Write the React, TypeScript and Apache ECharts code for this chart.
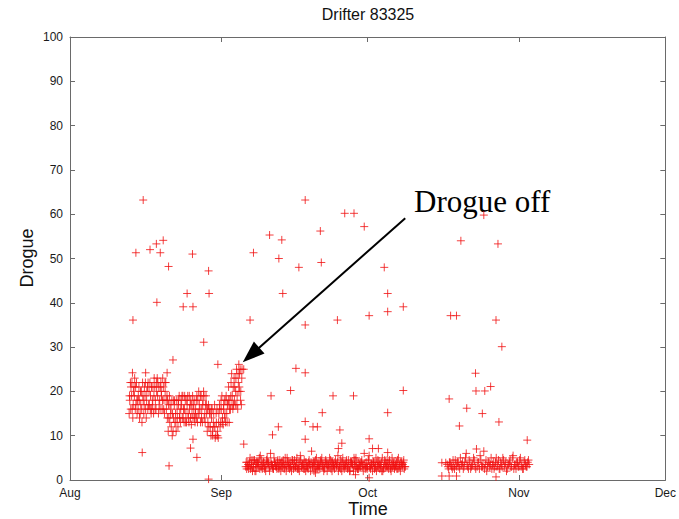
import React, { useEffect, useRef } from 'react';
import * as echarts from 'echarts';

// Days since 1 Aug (00:00); month boundaries on the time axis
const monthTicks = [0, 31, 61, 92, 122];
const monthLabels = ['Aug', 'Sep', 'Oct', 'Nov', 'Dec'];

// Drogue band before loss (Aug 13 - Sep 4)
const augBand: [number, number][] = [
  [12.25, 18], [12.5, 21], [12.75, 16], [13.0, 20], [13.25, 23], [13.5, 17], [13.75, 15], [14.0, 19],
  [14.25, 14], [14.5, 17], [14.75, 13], [15.0, 18], [15.25, 21], [15.5, 16], [15.75, 20], [16.0, 22],
  [16.25, 17], [16.5, 19], [16.75, 16], [17.0, 21], [17.25, 23], [17.5, 18], [17.75, 20], [18.0, 22],
  [18.25, 17], [18.5, 21], [18.75, 19], [19.0, 23], [19.25, 18], [19.5, 20], [19.75, 16], [20.0, 18],
  [20.25, 14], [20.5, 17], [20.75, 12], [21.0, 15], [21.25, 18], [21.5, 13], [21.75, 11], [22.0, 14],
  [22.25, 17], [22.5, 15], [22.75, 18], [23.0, 14], [23.25, 16], [23.5, 19], [23.75, 15], [24.0, 17],
  [24.25, 14], [24.5, 16], [24.75, 18], [25.0, 15], [25.25, 17], [25.5, 14], [25.75, 16], [26.0, 19],
  [26.25, 15], [26.5, 17], [26.75, 13], [27.0, 16], [27.25, 18], [27.5, 14], [27.75, 17], [28.0, 15],
  [28.25, 13], [28.5, 16], [28.75, 12], [29.0, 14], [29.25, 10], [29.5, 12], [29.75, 9.5], [30.0, 13],
  [30.25, 11], [30.5, 15], [30.75, 12], [31.0, 16], [31.25, 14], [31.5, 17], [31.75, 15], [32.0, 19],
  [32.25, 17], [32.5, 21], [32.75, 18], [33.0, 22], [33.25, 19], [33.5, 17], [33.75, 21], [34.0, 23],
  [34.25, 19], [34.5, 22], [34.75, 24], [35.0, 20], [35.25, 25],
];
const augBandB: [number, number][] = [
  [12.125, 15], [12.375, 22], [12.625, 19], [12.875, 14], [13.125, 21], [13.375, 16], [13.625, 22], [13.875, 18],
  [14.125, 21], [14.375, 15], [14.625, 20], [14.875, 22], [15.125, 15], [15.375, 19], [15.625, 14], [15.875, 21],
  [16.125, 17], [16.375, 22], [16.625, 15], [16.875, 18], [17.125, 15], [17.375, 21], [17.625, 16], [17.875, 23],
  [18.125, 15], [18.375, 18], [18.625, 22], [18.875, 16], [19.125, 21], [19.375, 15], [19.625, 22], [19.875, 19],
  [20.125, 11], [20.375, 19], [20.625, 15], [20.875, 18], [21.125, 11], [21.375, 17], [21.625, 15], [21.875, 18],
  [22.125, 12], [22.375, 19], [22.625, 13], [22.875, 17], [23.125, 19], [23.375, 13], [23.625, 18], [23.875, 13],
  [24.125, 19], [24.375, 13], [24.625, 17], [24.875, 12.5], [25.125, 19], [25.375, 16], [25.625, 13], [25.875, 18],
  [26.125, 13], [26.375, 20], [26.625, 16], [26.875, 19], [27.125, 13], [27.375, 20], [27.625, 15], [27.875, 19],
  [28.125, 11], [28.375, 17], [28.625, 15], [28.875, 10], [29.125, 16], [29.375, 13], [29.625, 17], [29.875, 10],
  [30.125, 16], [30.375, 9.5], [30.625, 17], [30.875, 13], [31.125, 19], [31.375, 12.5], [31.625, 18], [31.875, 13],
  [32.125, 15], [32.375, 17], [32.625, 13], [32.875, 16], [33.125, 24], [33.375, 16], [33.625, 23], [33.875, 17],
  [34.125, 25], [34.375, 16], [34.625, 20], [34.875, 25], [35.125, 17],
];
const augBandC: [number, number][] = [
  [12.2, 19], [12.45, 16], [12.7, 22], [12.95, 17], [13.2, 19], [13.45, 21], [13.7, 18], [13.95, 16],
  [14.2, 18], [14.45, 20], [14.7, 16], [14.95, 19], [15.2, 17], [15.45, 22], [15.7, 18], [15.95, 16],
  [16.2, 20], [16.45, 16], [16.7, 21], [16.95, 17], [17.2, 19], [17.45, 16], [17.7, 22], [17.95, 19],
  [18.2, 21], [18.45, 16], [18.7, 20], [18.95, 18], [19.2, 16], [19.45, 22], [19.7, 18], [19.95, 14],
  [20.2, 17], [20.45, 13], [20.7, 16], [20.95, 10], [21.2, 14], [21.45, 18], [21.7, 13], [21.95, 16],
  [22.2, 18], [22.45, 14], [22.7, 16], [22.95, 19], [23.2, 14], [23.45, 16], [23.7, 13], [23.95, 18],
  [24.2, 15], [24.45, 19], [24.7, 14], [24.95, 17], [25.2, 14], [25.45, 18], [25.7, 15], [25.95, 14],
  [26.2, 18], [26.45, 15], [26.7, 19], [26.95, 14], [27.2, 17], [27.45, 19], [27.7, 13], [27.95, 17],
  [28.2, 16], [28.45, 12], [28.7, 15], [28.95, 16], [29.2, 11], [29.45, 15], [29.7, 12], [29.95, 15],
  [30.2, 10], [30.45, 13], [30.7, 16], [30.95, 18], [31.2, 13], [31.45, 16], [31.7, 14], [31.95, 18],
  [32.2, 13], [32.45, 18], [32.7, 16], [32.95, 19], [33.2, 17], [33.45, 21], [33.7, 18], [33.95, 20],
  [34.2, 17], [34.45, 24], [34.7, 21], [34.95, 18], [35.2, 23],
];

// Band after the drogue came off (Sep 5 - Oct 9)
const sepBand: [number, number][] = [
  [36.0, 3], [36.3, 4], [36.6, 2.5], [36.9, 5], [37.2, 3.5], [37.5, 3], [37.8, 4.5], [38.1, 2],
  [38.4, 4], [38.7, 3], [39.0, 5.5], [39.3, 3], [39.6, 4], [39.9, 2.5], [40.2, 3.5], [40.5, 4],
  [40.8, 3], [41.1, 6], [41.4, 3.5], [41.7, 2.5], [42.0, 4], [42.3, 3], [42.6, 4.5], [42.9, 3],
  [43.2, 2], [43.5, 4], [43.8, 3.5], [44.1, 5], [44.4, 3], [44.7, 4], [45.0, 2.5], [45.3, 3],
  [45.6, 4.5], [45.9, 3.5], [46.2, 3], [46.5, 5], [46.8, 2.5], [47.1, 4], [47.4, 3], [47.7, 3.5],
  [48.0, 4.5], [48.3, 2], [48.6, 3], [48.9, 4], [49.2, 3.5], [49.5, 6.5], [49.8, 3], [50.1, 4],
  [50.4, 2.5], [50.7, 3.5], [51.0, 3], [51.3, 4], [51.6, 5], [51.9, 3], [52.2, 2.5], [52.5, 4],
  [52.8, 3.5], [53.1, 3], [53.4, 4.5], [53.7, 2], [54.0, 3.5], [54.3, 4], [54.6, 3], [54.9, 5.5],
  [55.2, 3], [55.5, 2.5], [55.8, 4], [56.1, 3.5], [56.4, 3], [56.7, 4.5], [57.0, 3], [57.3, 2],
  [57.6, 4], [57.9, 3.5], [58.2, 5], [58.5, 3], [58.8, 4], [59.1, 2.5], [59.4, 3], [59.7, 4],
  [60.0, 3.5], [60.3, 6], [60.6, 3], [60.9, 2.5], [61.2, 4.5], [61.5, 3], [61.8, 3.5], [62.1, 4],
  [62.4, 2.5], [62.7, 5], [63.0, 3], [63.3, 4], [63.6, 3.5], [63.9, 2], [64.2, 3], [64.5, 4.5],
  [64.8, 3.5], [65.1, 3], [65.4, 4], [65.7, 2.5], [66.0, 5], [66.3, 3.5], [66.6, 3], [66.9, 4],
  [67.2, 2.5], [67.5, 3.5], [67.8, 4], [68.1, 3], [68.4, 4.5], [68.7, 3],
];
const sepBandB: [number, number][] = [
  [36.1, 4], [36.4, 3], [36.7, 3.5], [37.0, 2.5], [37.3, 4.5], [37.6, 3], [37.9, 2], [38.2, 4], [38.5, 3.5], [38.8, 5],
  [39.1, 3], [39.4, 2.5], [39.7, 4], [40.0, 3], [40.3, 4.5], [40.6, 3.5], [40.9, 2], [41.2, 4], [41.5, 3], [41.8, 5],
  [42.1, 3.5], [42.4, 2.5], [42.7, 3], [43.0, 4.5], [43.3, 4], [43.6, 3], [43.9, 2.5], [44.2, 3.5], [44.5, 5], [44.8, 3],
  [45.1, 4], [45.4, 2], [45.7, 3.5], [46.0, 4.5], [46.3, 3], [46.6, 2.5], [46.9, 4], [47.2, 5.5], [47.5, 3], [47.8, 3.5],
  [48.1, 2.5], [48.4, 4], [48.7, 3], [49.0, 4.5], [49.3, 2], [49.6, 3.5], [49.9, 4], [50.2, 3], [50.5, 5], [50.8, 2.5],
  [51.1, 3.5], [51.4, 4.5], [51.7, 3], [52.0, 2], [52.3, 4], [52.6, 3.5], [52.9, 3], [53.2, 5], [53.5, 2.5], [53.8, 4],
  [54.1, 3], [54.4, 4.5], [54.7, 3.5], [55.0, 2], [55.3, 3], [55.6, 4], [55.9, 5], [56.2, 2.5], [56.5, 3.5], [56.8, 3],
  [57.1, 4.5], [57.4, 2], [57.7, 4], [58.0, 3], [58.3, 3.5], [58.6, 5], [58.9, 2.5], [59.2, 4], [59.5, 3], [59.8, 4.5],
  [60.1, 2], [60.4, 3.5], [60.7, 4], [61.0, 3], [61.3, 5.5], [61.6, 2.5], [61.9, 3.5], [62.2, 4], [62.5, 3], [62.8, 2],
  [63.1, 4.5], [63.4, 3.5], [63.7, 3], [64.0, 5], [64.3, 2.5], [64.6, 4], [64.9, 3], [65.2, 3.5], [65.5, 4.5], [65.8, 2],
  [66.1, 3], [66.4, 4], [66.7, 3.5], [67.0, 2.5], [67.3, 5], [67.6, 3], [67.9, 4], [68.2, 3.5], [68.5, 2.5],
];
const sepBandC: [number, number][] = [
  [36.2, 2.5], [36.5, 3.5], [36.8, 4], [37.1, 3], [37.4, 2], [37.7, 4.5], [38.0, 3.5], [38.3, 3], [38.6, 4], [38.9, 2.5],
  [39.2, 4.5], [39.5, 3.5], [39.8, 3], [40.1, 2], [40.4, 5], [40.7, 4], [41.0, 3], [41.3, 3.5], [41.6, 2.5], [41.9, 4],
  [42.2, 3], [42.5, 4], [42.8, 2.5], [43.1, 3.5], [43.4, 3], [43.7, 4.5], [44.0, 3], [44.3, 2], [44.6, 4], [44.9, 3.5],
  [45.2, 3], [45.5, 4.5], [45.8, 2.5], [46.1, 3], [46.4, 4], [46.7, 3], [47.0, 2], [47.3, 4.5], [47.6, 3.5], [47.9, 2.5],
  [48.2, 4], [48.5, 3], [48.8, 2.5], [49.1, 3.5], [49.4, 4], [49.7, 3], [50.0, 2], [50.3, 4.5], [50.6, 3], [50.9, 3.5],
  [51.2, 2.5], [51.5, 4], [51.8, 3.5], [52.1, 3], [52.4, 4.5], [52.7, 2], [53.0, 3.5], [53.3, 3], [53.6, 4], [53.9, 3],
  [54.2, 2.5], [54.5, 3.5], [54.8, 4], [55.1, 3], [55.4, 4.5], [55.7, 2], [56.0, 3], [56.3, 3.5], [56.6, 4], [56.9, 2.5],
  [57.2, 3], [57.5, 4], [57.8, 3.5], [58.1, 2], [58.4, 4.5], [58.7, 3], [59.0, 2.5], [59.3, 3.5], [59.6, 4], [59.9, 3],
  [60.2, 3.5], [60.5, 2.5], [60.8, 3], [61.1, 4.5], [61.4, 3], [61.7, 3.5], [62.0, 2], [62.3, 4], [62.6, 3], [62.9, 4],
  [63.2, 3], [63.5, 2.5], [63.8, 4], [64.1, 2], [64.4, 3.5], [64.7, 3], [65.0, 4.5], [65.3, 2.5], [65.6, 3], [65.9, 3.5],
  [66.2, 4], [66.5, 2.5], [66.8, 3], [67.1, 4.5], [67.4, 3], [67.7, 2], [68.0, 3.5], [68.3, 4], [68.6, 3],
];

// Band from mid October to early November
const novBand: [number, number][] = [
  [77.3, 3.5], [77.6, 2.5], [77.9, 4], [78.2, 3], [78.5, 4.5], [78.8, 2.5], [79.1, 3.5], [79.4, 4],
  [79.7, 3], [80.0, 5], [80.3, 3.5], [80.6, 2.5], [80.9, 4], [81.2, 6], [81.5, 3], [81.8, 4.5],
  [82.1, 2.5], [82.4, 3.5], [82.7, 5], [83.0, 3], [83.3, 7], [83.6, 4], [83.9, 2.5], [84.2, 4.5],
  [84.5, 3], [84.8, 6.5], [85.1, 3.5], [85.4, 2], [85.7, 4], [86.0, 3], [86.3, 5], [86.6, 3.5],
  [86.9, 2.5], [87.2, 4], [87.5, 3], [87.8, 4.5], [88.1, 2.5], [88.4, 3.5], [88.7, 5], [89.0, 3],
  [89.3, 4], [89.6, 2.5], [89.9, 3.5], [90.2, 4.5], [90.5, 3], [90.8, 5.5], [91.1, 3.5], [91.4, 2.5],
  [91.7, 4], [92.0, 3], [92.3, 5], [92.6, 3.5], [92.9, 2.5], [93.2, 4.5], [93.5, 3], [93.8, 4],
  [94.1, 3.5],
];
const novBandB: [number, number][] = [
  [77.45, 3], [77.75, 4], [78.05, 3.5], [78.35, 2.5], [78.65, 3], [78.95, 4.5], [79.25, 3], [79.55, 4], [79.85, 2.5], [80.15, 3.5],
  [80.45, 4], [80.75, 3], [81.05, 5], [81.35, 3.5], [81.65, 2.5], [81.95, 4], [82.25, 3], [82.55, 3.5], [82.85, 4.5], [83.15, 2.5],
  [83.45, 3], [83.75, 4], [84.05, 5.5], [84.35, 3], [84.65, 3.5], [84.95, 2.5], [85.25, 4.5], [85.55, 3], [85.85, 4], [86.15, 3.5],
  [86.45, 2.5], [86.75, 4], [87.05, 3], [87.35, 5], [87.65, 3.5], [87.95, 2.5], [88.25, 4], [88.55, 3], [88.85, 4.5], [89.15, 3.5],
  [89.45, 2], [89.75, 3.5], [90.05, 4], [90.35, 3], [90.65, 5], [90.95, 2.5], [91.25, 3.5], [91.55, 4], [91.85, 3], [92.15, 4.5],
  [92.45, 3], [92.75, 2.5], [93.05, 4], [93.35, 3.5], [93.65, 3], [93.95, 4.5],
];

// Scattered spikes
const outliers: [number, number][] = [
  [25.1, 51], [13.5, 51.3], [16.4, 52], [17.7, 53.3], [19.1, 54.1], [18.5, 51.3], [15.0, 63.2],
  [20.2, 48.2], [28.4, 47.2], [24.0, 42.1], [28.5, 42.1], [17.8, 40.1], [23.2, 39.1], [25.2, 39.1],
  [12.9, 36.1], [27.4, 31.1], [21.1, 27.1], [30.3, 26.1], [34.6, 26.1], [12.8, 24.2], [15.5, 24.2],
  [19.9, 24.2], [14.8, 6.2], [20.3, 3.2], [25.2, 9.2], [24.7, 7.2], [26.0, 5.1], [28.4, 0.2],
  [36.9, 36.1], [48.2, 35.0], [54.8, 36.1], [61.3, 37.1], [65.1, 38.0], [68.3, 39.1], [35.6, 25.0],
  [46.3, 25.2], [48.2, 24.2], [41.2, 19.0], [45.2, 20.2], [53.9, 19.0], [58.1, 19.0], [68.3, 20.2],
  [51.7, 15.2], [65.1, 15.2], [42.7, 12.0], [48.2, 13.2], [49.8, 12.0], [50.7, 12.0], [41.5, 10.2],
  [48.2, 9.2], [55.3, 11.3], [55.7, 8.3], [55.0, 7.1], [61.3, 9.3], [62.0, 7.1], [63.2, 7.1],
  [65.1, 6.2], [35.6, 8.1], [58.5, 1.2], [61.3, 0.5], [50.3, 1.6],
  [48.2, 63.2], [56.3, 60.2], [58.2, 60.2], [60.3, 57.2], [51.3, 56.2], [40.9, 55.3], [43.4, 54.2],
  [37.6, 51.3], [42.8, 50.0], [46.9, 48.0], [51.5, 49.1], [64.4, 48.0], [43.6, 42.1], [65.1, 42.1],
  [78.0, 37.1], [79.2, 37.1], [87.3, 36.1], [88.5, 30.1], [83.1, 24.1], [83.2, 20.1], [85.0, 20.1],
  [86.2, 21.1], [77.7, 18.3], [81.3, 16.2], [84.5, 15.0], [79.8, 12.2], [87.9, 13.1], [93.7, 9.0],
  [76.2, 0.9], [77.7, 0.9], [79.2, 0.9], [87.3, 0.7], [80.1, 54.0], [84.8, 59.8], [87.7, 53.3],
  [76.2, 3.9], [77.0, 3.9],
];

// Annotation anchors (data coordinates)
const arrowTip: [number, number] = [35.4, 26.6];
const arrowTail: [number, number] = [68.7, 59.1];
const noteAnchor: [number, number] = [70.5, 62.8];
const noteText = 'Drogue off';

const PLUS = 'path://M0,5L10,5M5,0L5,10';
const AXIS_COLOR = '#6a6a6a';
const LABEL_COLOR = '#1a1a1a';
const SANS = '"Liberation Sans", Arial, sans-serif';

export default function App() {
  const ref = useRef<HTMLDivElement>(null);

  useEffect(() => {
    if (!ref.current) return;
    const chart = echarts.init(ref.current, undefined, { renderer: 'svg' });

    const mirrorX = {
      type: 'value', min: 0, max: 122, position: 'top',
      axisLine: { show: true, onZero: false, lineStyle: { color: AXIS_COLOR, width: 1 } },
      axisTick: { show: true, inside: true, length: 5, customValues: monthTicks, lineStyle: { color: AXIS_COLOR } },
      axisLabel: { show: false },
      splitLine: { show: false },
    };
    const mirrorY = {
      type: 'value', min: 0, max: 100, interval: 10, position: 'right',
      axisLine: { show: true, onZero: false, lineStyle: { color: AXIS_COLOR, width: 1 } },
      axisTick: { show: true, inside: true, length: 5, lineStyle: { color: AXIS_COLOR } },
      axisLabel: { show: false },
      splitLine: { show: false },
    };

    chart.setOption({
      animation: false,
      grid: { left: 70, right: 12, top: 37, bottom: 39, show: false },
      xAxis: [
        {
          type: 'value', min: 0, max: 122, position: 'bottom',
          axisLine: { show: true, onZero: false, lineStyle: { color: AXIS_COLOR, width: 1 } },
          axisTick: { show: true, inside: true, length: 5, customValues: monthTicks, lineStyle: { color: AXIS_COLOR } },
          axisLabel: {
            customValues: monthTicks,
            formatter: (v: number) => {
              const i = monthTicks.indexOf(Math.round(v));
              return i >= 0 ? monthLabels[i] : '';
            },
            color: LABEL_COLOR, fontSize: 12, fontFamily: SANS, margin: 7,
          },
          splitLine: { show: false },
        },
        mirrorX,
      ],
      yAxis: [
        {
          type: 'value', min: 0, max: 100, interval: 10, position: 'left',
          axisLine: { show: true, onZero: false, lineStyle: { color: AXIS_COLOR, width: 1 } },
          axisTick: { show: true, inside: true, length: 5, lineStyle: { color: AXIS_COLOR } },
          axisLabel: { color: LABEL_COLOR, fontSize: 12, fontFamily: SANS, margin: 7 },
          splitLine: { show: false },
        },
        mirrorY,
      ],
      series: [
        {
          type: 'scatter', xAxisIndex: 0, yAxisIndex: 0, silent: true,
          symbol: PLUS, symbolSize: 8,
          itemStyle: { color: 'transparent', borderColor: '#f01010', borderWidth: 1 },
          data: [
            ...augBand, ...augBandB, ...augBandC,
            ...sepBand, ...sepBandB, ...sepBandC,
            ...novBand, ...novBandB,
            ...outliers,
          ],
        },
      ],
    });

    const tip = chart.convertToPixel({ gridIndex: 0 }, arrowTip) as number[];
    const tail = chart.convertToPixel({ gridIndex: 0 }, arrowTail) as number[];
    const note = chart.convertToPixel({ gridIndex: 0 }, noteAnchor) as number[];
    const dx = tip[0] - tail[0];
    const dy = tip[1] - tail[1];
    const len = Math.hypot(dx, dy);
    const ux = dx / len;
    const uy = dy / len;
    const headLen = 22;
    const headHalf = 8;
    const bx = tip[0] - ux * headLen;
    const by = tip[1] - uy * headLen;

    chart.setOption({
      graphic: [
        {
          type: 'text', x: 368, y: 6,
          style: { text: 'Drifter 83325', font: `16px ${SANS}`, fill: '#111', textAlign: 'center', textVerticalAlign: 'top' },
        },
        {
          type: 'text', x: 368, y: 509,
          style: { text: 'Time', font: `18px ${SANS}`, fill: '#111', textAlign: 'center', textVerticalAlign: 'middle' },
        },
        {
          type: 'text', x: 27, y: 258, rotation: Math.PI / 2,
          style: { text: 'Drogue', font: `18px ${SANS}`, fill: '#111', textAlign: 'center', textVerticalAlign: 'middle' },
        },
        {
          type: 'line',
          shape: { x1: tail[0], y1: tail[1], x2: bx + ux * 2, y2: by + uy * 2 },
          style: { stroke: '#000', lineWidth: 2 },
        },
        {
          type: 'polygon',
          shape: {
            points: [
              [tip[0], tip[1]],
              [bx - uy * headHalf, by + ux * headHalf],
              [bx + uy * headHalf, by - ux * headHalf],
            ],
          },
          style: { fill: '#000' },
        },
        {
          type: 'text', x: note[0], y: note[1],
          style: { text: noteText, font: `31px "Liberation Serif", "Times New Roman", serif`, fill: '#000', textAlign: 'left', textVerticalAlign: 'middle' },
        },
      ],
    });

    return () => chart.dispose();
  }, []);

  return (
    <div
      ref={ref}
      style={{ position: 'absolute', left: 0, top: 0, width: 679, height: 519 }}
    />
  );
}
